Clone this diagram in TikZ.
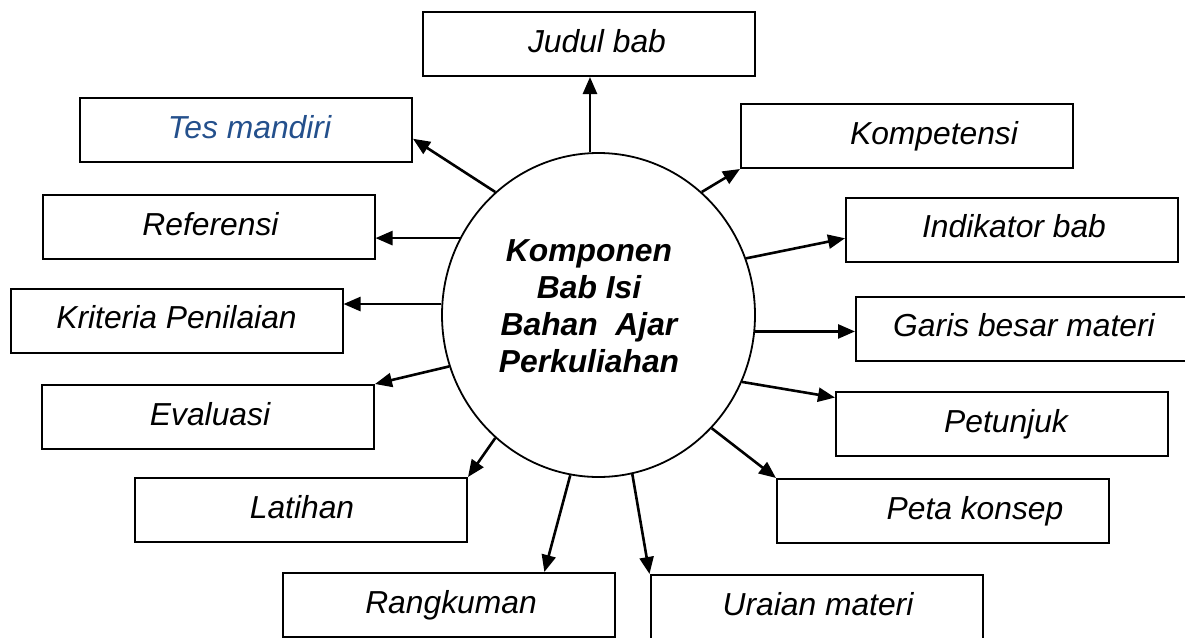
\documentclass[tikz,border=0pt]{standalone}
\usepackage{fontspec}
\setmainfont{Liberation Sans}
\usetikzlibrary{arrows.meta,shapes.geometric}
\definecolor{biru}{RGB}{36,80,140}

\begin{document}
\begin{tikzpicture}[x=1pt, y=-1pt, >={Triangle[length=17pt,width=14pt]},
        kotak/.style={draw, line width=2pt, minimum width=332pt, minimum height=64pt, inner sep=0pt,
            text height=23pt, text depth=7pt, font=\fontsize{31.8pt}{37pt}\selectfont\itshape},
        panah/.style={->, line width=2.6pt}]
        \useasboundingbox (0,0) rectangle (1185,637);

        \node [ellipse, draw, line width=1.8pt, minimum width=313pt, minimum height=324pt, inner sep=0pt] (pusat) at (598.5,315) {};
        \node [align=center, font=\fontsize{31.8pt}{37pt}\selectfont\bfseries\itshape] (teks) at (589,306) {Komponen\\Bab Isi\\Bahan~~Ajar\\Perkuliahan};

        \node [kotak] (judul) at (589,44) {\hspace*{16pt}Judul bab};
        \node [kotak, text=biru] (tes) at (246,130) {\hspace*{7pt}Tes mandiri};
        \node [kotak] (kompetensi) at (907,136) {\hspace*{54pt}Kompetensi};
        \node [kotak] (referensi) at (208.5,227) {\hspace*{4pt}Referensi};
        \node [kotak] (indikator) at (1012,229.5) {\hspace*{4pt}Indikator bab};
        \node [kotak] (kriteria) at (176.5,320.5) {Kriteria Penilaian};
        \node [kotak] (garis) at (1022,328.5) {\hspace*{4pt}Garis besar materi};
        \node [kotak] (evaluasi) at (208,417) {\hspace*{4pt}Evaluasi};
        \node [kotak] (petunjuk) at (1002,424) {\hspace*{8pt}Petunjuk};
        \node [kotak] (latihan) at (301,510) {\hspace*{2pt}Latihan};
        \node [kotak] (peta) at (943,511) {\hspace*{64pt}Peta konsep};
        \node [kotak] (rangkuman) at (448.5,605) {\hspace*{5pt}Rangkuman};
        \node [kotak] (uraian) at (816.5,607) {\hspace*{3pt}Uraian materi};

        \draw [panah] (pusat.93) -- (pusat.93 |- judul.south);
        \draw [panah] (pusat.130) -- (tes.-3.8);
        \draw [panah] (pusat.50) -- (kompetensi.south west);
        \draw [panah] (pusat.151) -- (pusat.151 -| referensi.east);
        \draw [panah] (pusat.176) -- (pusat.176 -| kriteria.east);
        \draw [panah] (pusat.199) -- (evaluasi.north east);
        \draw [panah] (pusat.230) -- (latihan.north east);
        \draw [panah] (pusat.260) -- (rangkuman.19.7);
        \draw [panah] (pusat.-78) -- (uraian.north west);
        \draw [panah] (pusat.-45) -- (peta.north west);
        \draw [panah] (pusat.-25) -- (petunjuk.171);
        \draw [panah] (pusat.-6) -- (pusat.-6 -| garis.west);
        \draw [panah] (pusat.21.5) -- (indikator.-177);
\end{tikzpicture}
\end{document}
